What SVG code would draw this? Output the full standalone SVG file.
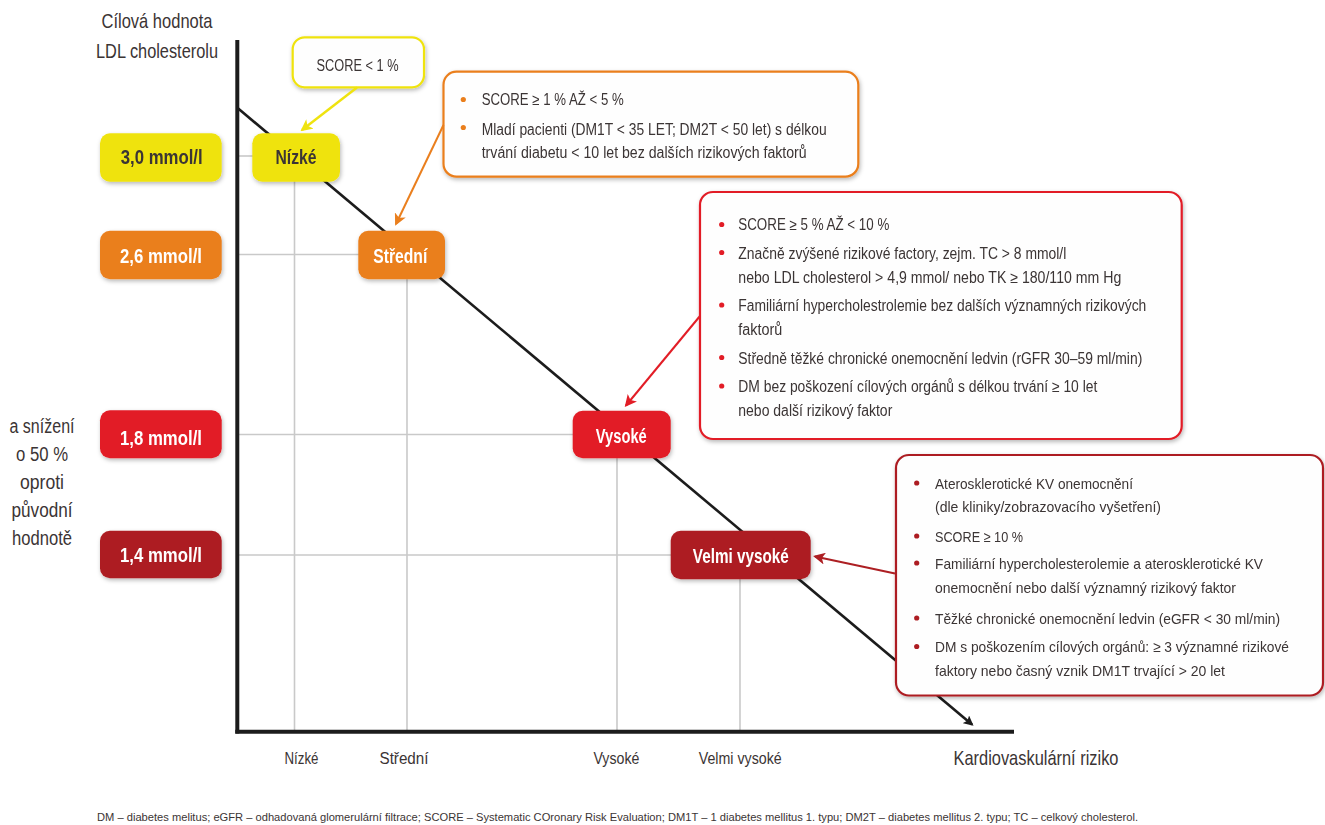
<svg xmlns="http://www.w3.org/2000/svg" width="1325" height="825" viewBox="0 0 1325 825">
<defs>
<style>
text{font-family:"Liberation Sans","DejaVu Sans",sans-serif;}
.dk{fill:#3b3434;}
.wt{fill:#ffffff;}
.lbl{font-size:20px;font-weight:bold;}
.b{font-size:15.8px;fill:#3b3434;}
.bs{font-size:14.8px;fill:#3b3434;}
.ax{font-size:16px;fill:#3b3434;}
.grid{stroke:#c9c9c9;stroke-width:1.6;fill:none;}
.axis{stroke:#1c1c1c;stroke-width:4;fill:none;}
.yel{fill:#efe30f;}
.ora{fill:#ea7f1e;}
.red{fill:#e21d26;}
.drd{fill:#ad1f23;}
.call{fill:#fefefe;stroke-width:2.2;}
</style>
<filter id="sh" x="-10%" y="-10%" width="125%" height="130%">
<feDropShadow dx="1" dy="2" stdDeviation="2" flood-color="#000" flood-opacity="0.28"/>
</filter>
<marker id="mK" markerWidth="10" markerHeight="10" refX="8" refY="5" orient="auto" markerUnits="userSpaceOnUse"><path d="M0,0 L10,5 L0,10 L2,5 Z" fill="#1c1c1c"/></marker>
<marker id="mY" markerWidth="12" markerHeight="12" refX="10" refY="6" orient="auto" markerUnits="userSpaceOnUse"><path d="M0,0 L12,6 L0,12 L3,6 Z" fill="#efe30f"/></marker>
<marker id="mO" markerWidth="12" markerHeight="12" refX="10" refY="6" orient="auto" markerUnits="userSpaceOnUse"><path d="M0,0 L12,6 L0,12 L3,6 Z" fill="#ea7f1e"/></marker>
<marker id="mR" markerWidth="12" markerHeight="12" refX="10" refY="6" orient="auto" markerUnits="userSpaceOnUse"><path d="M0,0 L12,6 L0,12 L3,6 Z" fill="#e21d26"/></marker>
<marker id="mD" markerWidth="12" markerHeight="12" refX="10" refY="6" orient="auto" markerUnits="userSpaceOnUse"><path d="M0,0 L12,6 L0,12 L3,6 Z" fill="#ad1f23"/></marker>
</defs>
<rect width="1325" height="825" fill="#ffffff"/>

<g id="titles">
<text class="dk" x="157" y="28" font-size="21" text-anchor="middle" textLength="111" lengthAdjust="spacingAndGlyphs">Cílová hodnota</text>
<text class="dk" x="157" y="58" font-size="21" text-anchor="middle" textLength="122" lengthAdjust="spacingAndGlyphs">LDL cholesterolu</text>
<text class="dk" x="42" y="433" font-size="20" text-anchor="middle" textLength="65" lengthAdjust="spacingAndGlyphs">a snížení</text>
<text class="dk" x="42" y="461" font-size="20" text-anchor="middle" textLength="52" lengthAdjust="spacingAndGlyphs">o 50 %</text>
<text class="dk" x="42" y="489" font-size="20" text-anchor="middle" textLength="44" lengthAdjust="spacingAndGlyphs">oproti</text>
<text class="dk" x="42" y="517" font-size="20" text-anchor="middle" textLength="61" lengthAdjust="spacingAndGlyphs">původní</text>
<text class="dk" x="42" y="545" font-size="20" text-anchor="middle" textLength="60" lengthAdjust="spacingAndGlyphs">hodnotě</text>
<text class="dk" x="1036" y="765" font-size="21" text-anchor="middle" textLength="165" lengthAdjust="spacingAndGlyphs">Kardiovaskulární riziko</text>
</g>

<g id="chart">
<line class="grid" x1="237" y1="156" x2="253" y2="156"/>
<line class="grid" x1="237" y1="254.5" x2="359" y2="254.5"/>
<line class="grid" x1="237" y1="434.5" x2="573" y2="434.5"/>
<line class="grid" x1="237" y1="555" x2="671" y2="555"/>
<line class="grid" x1="294.5" y1="181" x2="294.5" y2="731"/>
<line class="grid" x1="407" y1="279" x2="407" y2="731"/>
<line class="grid" x1="617" y1="458" x2="617" y2="731"/>
<line class="grid" x1="740" y1="579" x2="740" y2="731"/>
<line x1="237" y1="107.5" x2="972" y2="724.5" stroke="#1c1c1c" stroke-width="2.6" marker-end="url(#mK)"/>
<line class="axis" x1="237.3" y1="40" x2="237.3" y2="733.5"/>
<line class="axis" x1="235.3" y1="731.7" x2="1014" y2="731.7"/>
<text class="ax" x="301.5" y="764" text-anchor="middle" textLength="34" lengthAdjust="spacingAndGlyphs">Nízké</text>
<text class="ax" x="404" y="764" text-anchor="middle" textLength="49" lengthAdjust="spacingAndGlyphs">Střední</text>
<text class="ax" x="616.4" y="764" text-anchor="middle" textLength="46" lengthAdjust="spacingAndGlyphs">Vysoké</text>
<text class="ax" x="740.2" y="764" text-anchor="middle" textLength="83" lengthAdjust="spacingAndGlyphs">Velmi vysoké</text>
</g>

<g id="val-30" filter="url(#sh)">
<rect class="yel" x="100" y="133.3" width="121.7" height="48.4" rx="10"/>
<text class="dk lbl" x="161.7" y="164" text-anchor="middle" textLength="82" lengthAdjust="spacingAndGlyphs">3,0 mmol/l</text>
</g>
<g id="val-26" filter="url(#sh)">
<rect class="ora" x="100" y="230.7" width="121.7" height="48.6" rx="10"/>
<text class="wt lbl" x="161" y="263" text-anchor="middle" textLength="82" lengthAdjust="spacingAndGlyphs">2,6 mmol/l</text>
</g>
<g id="val-18" filter="url(#sh)">
<rect class="red" x="100" y="410.3" width="121.7" height="48" rx="10"/>
<text class="wt lbl" x="161" y="444.5" text-anchor="middle" textLength="82" lengthAdjust="spacingAndGlyphs">1,8 mmol/l</text>
</g>
<g id="val-14" filter="url(#sh)">
<rect class="drd" x="100" y="530.7" width="121.7" height="47.6" rx="10"/>
<text class="wt lbl" x="161" y="561.5" text-anchor="middle" textLength="82" lengthAdjust="spacingAndGlyphs">1,4 mmol/l</text>
</g>

<g id="node-nizke" filter="url(#sh)">
<rect class="yel" x="252.3" y="133.3" width="87.7" height="48.4" rx="10"/>
<text class="dk lbl" x="296" y="164" text-anchor="middle" textLength="41" lengthAdjust="spacingAndGlyphs">Nízké</text>
</g>
<g id="node-stredni" filter="url(#sh)">
<rect class="ora" x="358.3" y="230.7" width="86.7" height="48.6" rx="10"/>
<text class="wt lbl" x="400.3" y="263" text-anchor="middle" textLength="54" lengthAdjust="spacingAndGlyphs">Střední</text>
</g>
<g id="node-vysoke" filter="url(#sh)">
<rect class="red" x="572.7" y="410.7" width="98" height="47.6" rx="10"/>
<text class="wt lbl" x="621.3" y="442.5" text-anchor="middle" textLength="51" lengthAdjust="spacingAndGlyphs">Vysoké</text>
</g>
<g id="node-velmi" filter="url(#sh)">
<rect class="drd" x="670.7" y="530.7" width="140" height="48.6" rx="10"/>
<text class="wt lbl" x="740.8" y="562.5" text-anchor="middle" textLength="96" lengthAdjust="spacingAndGlyphs">Velmi vysoké</text>
</g>

<g id="box-score1" filter="url(#sh)">
<rect class="call" x="292.7" y="37.3" width="131.3" height="50" rx="12" stroke="#efe30f" stroke-width="2.6"/>
<text class="b" x="357.5" y="70.5" text-anchor="middle" textLength="82" lengthAdjust="spacingAndGlyphs">SCORE &lt; 1 %</text>
</g>

<g id="box-stredni" filter="url(#sh)">
<rect class="call" x="443.5" y="71.7" width="414.8" height="105" rx="13" stroke="#ea7f1e"/>
<circle cx="463.3" cy="99.5" r="2.6" fill="#ea7f1e"/>
<circle cx="463.3" cy="127.5" r="2.6" fill="#ea7f1e"/>
<text class="b" x="481.7" y="105" textLength="142" lengthAdjust="spacingAndGlyphs">SCORE ≥ 1 % AŽ &lt; 5 %</text>
<text class="b" x="481.7" y="135" textLength="345" lengthAdjust="spacingAndGlyphs">Mladí pacienti (DM1T &lt; 35 LET; DM2T &lt; 50 let) s délkou</text>
<text class="b" x="481.7" y="158" textLength="325" lengthAdjust="spacingAndGlyphs">trvání diabetu &lt; 10 let bez dalších rizikových faktorů</text>
</g>

<g id="box-vysoke" filter="url(#sh)">
<rect class="call" x="700" y="192" width="481.7" height="247" rx="13" stroke="#e21d26"/>
<circle cx="721.7" cy="224.5" r="2.6" fill="#e21d26"/>
<circle cx="721.7" cy="252.5" r="2.6" fill="#e21d26"/>
<circle cx="721.7" cy="305" r="2.6" fill="#e21d26"/>
<circle cx="721.7" cy="357.5" r="2.6" fill="#e21d26"/>
<circle cx="721.7" cy="386" r="2.6" fill="#e21d26"/>
<text class="b" x="738.3" y="230" textLength="151" lengthAdjust="spacingAndGlyphs">SCORE ≥ 5 % AŽ &lt; 10 %</text>
<text class="b" x="738.3" y="258.5" textLength="328" lengthAdjust="spacingAndGlyphs">Značně zvýšené rizikové factory, zejm. TC &gt; 8 mmol/l</text>
<text class="b" x="738.3" y="282.5" textLength="383" lengthAdjust="spacingAndGlyphs">nebo LDL cholesterol &gt; 4,9 mmol/ nebo TK ≥ 180/110 mm Hg</text>
<text class="b" x="738.3" y="311" textLength="408" lengthAdjust="spacingAndGlyphs">Familiární hypercholestrolemie bez dalších významných rizikových</text>
<text class="b" x="738.3" y="334.5" textLength="44" lengthAdjust="spacingAndGlyphs">faktorů</text>
<text class="b" x="738.3" y="363.5" textLength="404" lengthAdjust="spacingAndGlyphs">Středně těžké chronické onemocnění ledvin (rGFR 30–59 ml/min)</text>
<text class="b" x="738.3" y="392" textLength="359" lengthAdjust="spacingAndGlyphs">DM bez poškození cílových orgánů s délkou trvání ≥ 10 let</text>
<text class="b" x="738.3" y="415.5" textLength="154" lengthAdjust="spacingAndGlyphs">nebo další rizikový faktor</text>
</g>

<g id="box-velmi" filter="url(#sh)">
<rect class="call" x="896" y="455" width="427" height="240.5" rx="13" stroke="#ad1f23"/>
<circle cx="916.7" cy="483" r="2.6" fill="#ad1f23"/>
<circle cx="916.7" cy="536" r="2.6" fill="#ad1f23"/>
<circle cx="916.7" cy="563" r="2.6" fill="#ad1f23"/>
<circle cx="916.7" cy="618" r="2.6" fill="#ad1f23"/>
<circle cx="916.7" cy="646.5" r="2.6" fill="#ad1f23"/>
<text class="bs" x="935" y="488.5" textLength="198" lengthAdjust="spacingAndGlyphs">Aterosklerotické KV onemocnění</text>
<text class="bs" x="935" y="512" textLength="226" lengthAdjust="spacingAndGlyphs">(dle kliniky/zobrazovacího vyšetření)</text>
<text class="bs" x="935" y="541.5" textLength="88" lengthAdjust="spacingAndGlyphs">SCORE ≥ 10 %</text>
<text class="bs" x="935" y="568.5" textLength="328" lengthAdjust="spacingAndGlyphs">Familiární hypercholesterolemie a aterosklerotické KV</text>
<text class="bs" x="935" y="593" textLength="301" lengthAdjust="spacingAndGlyphs">onemocnění nebo další významný rizikový faktor</text>
<text class="bs" x="935" y="623.5" textLength="345" lengthAdjust="spacingAndGlyphs">Těžké chronické onemocnění ledvin (eGFR &lt; 30 ml/min)</text>
<text class="bs" x="935" y="652" textLength="354" lengthAdjust="spacingAndGlyphs">DM s poškozením cílových orgánů: ≥ 3 významné rizikové</text>
<text class="bs" x="935" y="675.5" textLength="290" lengthAdjust="spacingAndGlyphs">faktory nebo časný vznik DM1T trvající &gt; 20 let</text>
</g>

<g id="connectors" fill="none" stroke-width="2">
<line x1="357" y1="87.5" x2="302" y2="130" stroke="#efe30f" stroke-width="2.4" marker-end="url(#mY)"/>
<line x1="443.5" y1="125" x2="396" y2="224" stroke="#ea7f1e" marker-end="url(#mO)"/>
<line x1="700" y1="316" x2="626" y2="405.5" stroke="#e21d26" marker-end="url(#mR)"/>
<line x1="895" y1="573.5" x2="815" y2="556.5" stroke="#ad1f23" marker-end="url(#mD)"/>
</g>

<text class="dk" x="97" y="821" font-size="10.5" textLength="1041" lengthAdjust="spacingAndGlyphs">DM – diabetes melitus; eGFR – odhadovaná glomerulární filtrace; SCORE – Systematic COronary Risk Evaluation; DM1T – 1 diabetes mellitus 1. typu; DM2T – diabetes mellitus 2. typu; TC – celkový cholesterol.</text>
</svg>
